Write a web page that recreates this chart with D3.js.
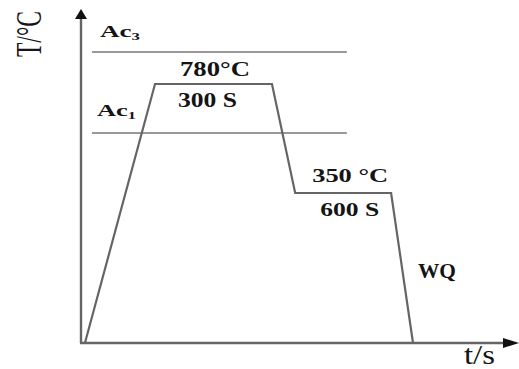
<!DOCTYPE html>
<html>
<head>
<meta charset="utf-8">
<script src="https://cdn.jsdelivr.net/npm/d3@7"></script>
<style>
  html, body { margin: 0; padding: 0; background: #fff; }
  svg { display: block; }
</style>
</head>
<body>
<svg id="chart" width="519" height="369"></svg>
<script>
// Heat-treatment schedule: heat to 780 °C, hold 300 s, cool to 350 °C, hold 600 s, water quench.
const stepTimes = [0.9, 16.9, 43.6, 48.9, 70.8, 75.8];     // schematic time units
const stepTemps = [25, 780, 780, 350, 350, 25];             // °C
const holdLabels = [
  { temp: "780°C", time: "300 S", at: 1 },
  { temp: "350 °C", time: "600 S", at: 3 }
];
const criticalNames = ["Ac", "Ac"];
const criticalSubs = ["3", "1"];
const criticalTemps = [850, 730];                           // °C
const criticalSpan = [2.5, 60.7];                           // time units
const quenchLabel = "WQ";
const xTitle = "t/s";
const yTitle = "T/°C";

const FONT = "'Liberation Serif', 'DejaVu Serif', 'Times New Roman', serif";
const svg = d3.select("#chart");

// Schematic axes: time is linear, temperature is piecewise (not to scale)
const x = d3.scaleLinear().domain([0, 100]).range([81, 519]);
const y = d3.scaleLinear()
  .domain([25, 350, 730, 780, 850, 1000])
  .range([343, 193, 133, 84, 52, 9]);

const grey = "#656565";

// Critical temperature lines
criticalTemps.forEach(t => {
  svg.append("line")
    .attr("x1", x(criticalSpan[0])).attr("x2", x(criticalSpan[1]))
    .attr("y1", y(t)).attr("y2", y(t))
    .attr("stroke", "#777").attr("stroke-width", 1.4);
});

// Axes with arrowheads
const x0 = x(0), y0 = y(25), yTop = y(1000), xEnd = x(100);
svg.append("line").attr("x1", x0).attr("x2", x0).attr("y1", y0).attr("y2", yTop + 8)
  .attr("stroke", grey).attr("stroke-width", 2.4);
svg.append("line").attr("x1", x0 - 1).attr("x2", xEnd - 12).attr("y1", y0).attr("y2", y0)
  .attr("stroke", grey).attr("stroke-width", 2.4);
svg.append("path")
  .attr("d", `M${x0},${yTop} L${x0 - 6},${yTop + 10} L${x0 + 6},${yTop + 10} Z`)
  .attr("fill", "#111");
svg.append("path")
  .attr("d", `M${xEnd},${y0} L${xEnd - 16},${y0 - 5} L${xEnd - 16},${y0 + 5} Z`)
  .attr("fill", "#111");

// Temperature–time path
const pts = stepTimes.map((t, i) => [x(t), y(stepTemps[i])]);
svg.append("path")
  .attr("d", d3.line()(pts))
  .attr("fill", "none")
  .attr("stroke", grey)
  .attr("stroke-width", 2.2)
  .attr("stroke-linejoin", "miter");

// Text helper: set font size by height, then stretch horizontally to a target width
function label(parts, px, py, size, width, weight) {
  const g = svg.append("g").attr("transform", `translate(${px},${py})`);
  const t = g.append("text")
    .attr("font-family", FONT)
    .attr("fill", "#141414")
    .attr("font-size", size)
    .attr("font-weight", weight || "bold");
  parts.forEach(p => {
    const s = t.append("tspan").text(p.text);
    if (p.sub) s.attr("font-size", size * 0.62).attr("dy", size * 0.18);
  });
  const w = t.node().getBBox().width;
  t.attr("transform", `scale(${width / w},1)`);
  return g;
}

// Critical temperature labels
label([{ text: criticalNames[0] }, { text: criticalSubs[0], sub: true }], 100, 37, 17, 40);
label([{ text: criticalNames[1] }, { text: criticalSubs[1], sub: true }], 97, 116, 17, 39);

// Hold labels above / below each plateau
const a = holdLabels[0], b = holdLabels[1];
label([{ text: a.temp }], pts[a.at][0] + 25, y(stepTemps[a.at]) - 8, 20, 70);
label([{ text: a.time }], pts[a.at][0] + 23, y(stepTemps[a.at]) + 23, 20, 59);
label([{ text: b.temp }], pts[b.at][0] + 17, y(stepTemps[b.at]) - 11, 19, 76);
label([{ text: b.time }], pts[b.at][0] + 25, y(stepTemps[b.at]) + 23, 19, 59);
label([{ text: quenchLabel }], 418, 278, 20, 38);

// Axis titles
label([{ text: xTitle }], 464, 364, 27, 31, "normal");
const yt = svg.append("text")
  .attr("font-family", FONT)
  .attr("fill", "#161616")
  .attr("font-size", 35)
  .attr("transform", "translate(41,57) rotate(-90)")
  .text(yTitle);
const yw = yt.node().getComputedTextLength();
yt.attr("transform", `translate(41,57) rotate(-90) scale(${46 / yw},1)`);
</script>
</body>
</html>
